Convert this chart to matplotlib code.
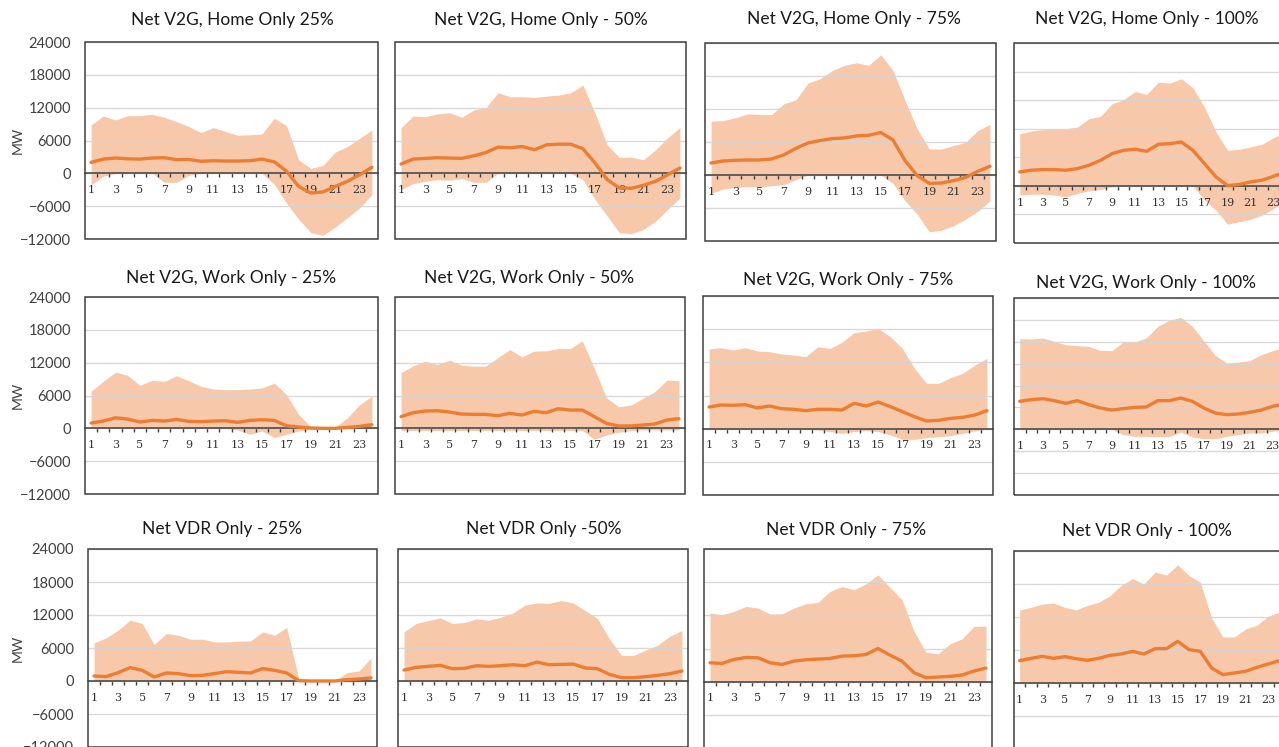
import matplotlib
matplotlib.use("Agg")
import matplotlib.pyplot as plt
from matplotlib.patches import Rectangle

# hours of the day
hours = list(range(1, 25))

titles = [
    "Net V2G, Home Only 25%", "Net V2G, Home Only - 50%", "Net V2G, Home Only - 75%", "Net V2G, Home Only - 100%",
    "Net V2G, Work Only - 25%", "Net V2G, Work Only - 50%", "Net V2G, Work Only - 75%", "Net V2G, Work Only - 100%",
    "Net VDR Only - 25%", "Net VDR Only -50%", "Net VDR Only - 75%", "Net VDR Only - 100%",
]

# --- Home only ---
home25_hi = [8850, 10480, 9760, 10540, 10540, 10790, 10240, 9450, 8540, 7450, 8360, 7640,
             6970, 7030, 7210, 10060, 8730, 2480, 900, 1450, 3880, 4900, 6420, 7940]
home25_lo = [-2060, -550, 0, 0, 0, 0, -1640, -1640, -360, 0, 0, 0,
             0, 0, 0, -2000, -5400, -8400, -10850, -11330, -9800, -8100, -6300, -3900]
home25_mid = [2000, 2600, 2800, 2650, 2600, 2800, 2850, 2500, 2550, 2200, 2300, 2250,
              2250, 2300, 2600, 2100, 400, -2400, -3600, -3400, -2400, -1450, -250, 1100]

home50_hi = [8360, 10480, 10360, 10850, 11090, 10240, 11570, 12000, 14730, 14000, 14000, 13880,
             14120, 14300, 14730, 16120, 10970, 5210, 2910, 2970, 2480, 4300, 6540, 8360]
home50_lo = [-2970, -1880, -1450, -1150, -1270, -970, -1640, -1640, 0, 0, 0, 0,
             0, 0, 0, -1150, -4790, -7800, -10850, -11030, -10240, -8730, -6600, -4480]
home50_mid = [1700, 2600, 2730, 2850, 2790, 2730, 3200, 3800, 4790, 4670, 4900, 4300,
              5210, 5330, 5330, 4480, 1880, -1150, -2670, -2730, -2180, -1450, -240, 970]

home75_hi = [9780, 9900, 10390, 11120, 11000, 11000, 12940, 13670, 16710, 17500, 19020, 19930,
             20420, 19930, 21870, 19020, 13550, 8390, 4740, 4740, 5350, 5950, 8080, 9180]
home75_lo = [-3340, -2550, -2250, -2130, -2130, -1940, -1760, -850, 0, 0, 0, 0,
             0, 0, 0, -1520, -4680, -7110, -10330, -10030, -9240, -8020, -6620, -4680]
home75_mid = [2190, 2550, 2670, 2730, 2730, 2920, 3650, 4860, 5830, 6260, 6620, 6740,
              7110, 7230, 7720, 6380, 2610, -120, -1520, -1460, -1030, -430, 670, 1580]

home100_hi = [10960, 11520, 11800, 11870, 12010, 12360, 14100, 14590, 17240, 18080, 19820, 19200,
              21780, 21570, 22480, 20590, 16540, 11310, 7470, 7680, 8170, 8730, 10120, 11310]
home100_lo = [-1950, -1750, -1750, -1950, -2300, -1600, -1050, -770, -200, 0, 0, 0,
              0, 0, 0, 0, -3000, -5100, -8030, -7540, -7050, -6140, -4750, -3350]
home100_mid = [2930, 3280, 3420, 3420, 3280, 3630, 4330, 5370, 6770, 7470, 7680, 7260,
               8730, 8860, 9210, 7470, 4680, 1880, 70, 280, 840, 1190, 2020, 2930]

# --- Work only ---
work25_hi = [6770, 8580, 10280, 9670, 7860, 8770, 8580, 9610, 8700, 7680, 7190, 7070,
             7070, 7190, 7370, 8280, 6170, 2540, 240, 0, 240, 1930, 4350, 5860]
work25_lo = [0, 0, 0, 0, 0, 0, 0, 0, 0, 0, 0, 0,
             -300, -1090, -480, -1690, -1090, -480, -180, 0, 0, 0, 0, 0]
work25_mid = [970, 1330, 1930, 1690, 1150, 1450, 1330, 1630, 1270, 1210, 1330, 1390,
              1090, 1450, 1570, 1450, 480, 240, 60, 0, 0, 180, 360, 660]

work50_hi = [10150, 11420, 12270, 11670, 12460, 11540, 11360, 11360, 12880, 14400, 13060, 14100,
             14160, 14580, 14580, 15980, 10940, 5590, 3950, 4250, 5470, 6680, 8810, 8690]
work50_lo = [-400, -400, -400, -400, -400, -400, -400, -400, -400, -400, -400, -400,
             -400, -400, -400, -400, -2000, -1220, -730, -430, -300, -300, -300, -300]
work50_mid = [2130, 2860, 3160, 3220, 2980, 2610, 2550, 2550, 2310, 2730, 2430, 3100,
              2860, 3580, 3340, 3340, 2130, 910, 430, 430, 610, 790, 1520, 1760]

work75_hi = [14410, 14650, 14230, 14650, 14050, 13930, 13510, 13330, 13020, 14830, 14530, 15620,
             17370, 17670, 18150, 16640, 14530, 10910, 8200, 8200, 9230, 10010, 11520, 12720]
work75_lo = [-100, -100, -100, -100, -100, -100, -100, -100, -100, -240, -540, -840,
             -540, -360, -540, -1150, -1930, -1930, -1630, -1450, -1270, -840, -420, 0]
work75_mid = [3920, 4280, 4220, 4340, 3740, 4100, 3620, 3500, 3260, 3500, 3500, 3380,
              4580, 4100, 4820, 3980, 3080, 2170, 1390, 1510, 1870, 2050, 2470, 3260]

work100_hi = [16560, 16500, 16690, 16080, 15470, 15290, 15160, 14430, 14370, 15960, 15960, 16690,
              18820, 19910, 20460, 18820, 16200, 13520, 12120, 12300, 12550, 13640, 14370, 14980]
work100_lo = [0, 0, 0, 0, 0, 0, 0, 0, 0, -970, -1280, -1280,
              -1340, -1340, -490, -1400, -1710, -1710, -1280, -970, -670, -670, -370, 0]
work100_mid = [5120, 5420, 5600, 5240, 4750, 5240, 4510, 3900, 3530, 3780, 4020, 4080,
               5240, 5240, 5720, 5120, 3900, 2980, 2680, 2800, 3110, 3530, 4200, 4630]

# --- VDR only ---
vdr25_hi = [6930, 7840, 9240, 11060, 10450, 6620, 8630, 8320, 7600, 7600, 7110, 7110,
            7230, 7290, 8930, 8320, 9720, 420, 0, 0, 0, 1520, 1820, 4190]
vdr25_lo = [0] * 24
vdr25_mid = [910, 790, 1520, 2430, 1940, 730, 1460, 1340, 970, 1030, 1340, 1700,
             1580, 1460, 2250, 1940, 1460, 60, 0, 0, 0, 240, 360, 550]

vdr50_hi = [8940, 10450, 10990, 11480, 10450, 10630, 11290, 11050, 11600, 12380, 13770, 14190,
            14130, 14620, 14190, 12800, 11360, 7670, 4650, 4650, 5620, 6520, 8150, 9180]
vdr50_lo = [0] * 24
vdr50_mid = [1990, 2480, 2660, 2840, 2230, 2300, 2780, 2660, 2780, 2960, 2780, 3440,
             2960, 3020, 3080, 2360, 2230, 1210, 600, 600, 790, 1030, 1330, 1810]

vdr75_hi = [12420, 12120, 12720, 13620, 13320, 12240, 12240, 13320, 14100, 14340, 16320, 17220,
            16620, 17700, 19320, 17040, 14820, 9120, 5340, 5040, 6840, 7740, 10020, 10020]
vdr75_lo = [0] * 24
vdr75_mid = [3420, 3300, 4020, 4380, 4320, 3420, 3120, 3720, 3960, 4080, 4200, 4620,
             4680, 4920, 6000, 4800, 3720, 1620, 720, 840, 960, 1200, 1920, 2460]

vdr100_hi = [13270, 13760, 14360, 14540, 13760, 13270, 14120, 14670, 15880, 17760, 18970, 18000,
             20180, 19630, 21510, 19510, 18300, 11820, 8360, 8360, 9820, 10480, 12120, 12910]
vdr100_lo = [0] * 24
vdr100_mid = [4060, 4480, 4850, 4480, 4790, 4420, 4120, 4480, 5030, 5270, 5760, 5270,
              6240, 6240, 7580, 6060, 5760, 2730, 1520, 1820, 2120, 2850, 3450, 4060]

series = [
    (home25_hi, home25_lo, home25_mid), (home50_hi, home50_lo, home50_mid),
    (home75_hi, home75_lo, home75_mid), (home100_hi, home100_lo, home100_mid),
    (work25_hi, work25_lo, work25_mid), (work50_hi, work50_lo, work50_mid),
    (work75_hi, work75_lo, work75_mid), (work100_hi, work100_lo, work100_mid),
    (vdr25_hi, vdr25_lo, vdr25_mid), (vdr50_hi, vdr50_lo, vdr50_mid),
    (vdr75_hi, vdr75_lo, vdr75_mid), (vdr100_hi, vdr100_lo, vdr100_mid),
]

# axis ranges (min, max, step) per panel
yranges = [(-12000, 24000, 6000)] * 3 + [(-12000, 30000, 6000)] + \
          [(-12000, 24000, 6000)] * 3 + [(-12000, 24000, 4000)] + \
          [(-12000, 24000, 6000)] * 4

# panel boxes in pixels: left, top, right, bottom
boxes = [
    (85, 42, 378, 239), (395, 42, 686, 239), (705, 43, 996, 241), (1014, 43, 1291, 243),
    (85, 297, 378, 494), (395, 297, 685, 494), (703, 296, 993, 495), (1014, 298, 1290, 495),
    (88, 549, 377, 747), (398, 549, 688, 747), (704, 549, 992, 748), (1014, 551, 1285, 749),
]
title_pos = [
    (232, 20), (541, 20), (854, 19), (1147, 19),
    (231, 278), (529, 278), (848, 280), (1146, 283),
    (222, 529), (544, 529), (846, 530), (1147, 531),
]

W, H = 1279, 747
fig = plt.figure(figsize=(W / 100, H / 100), dpi=100)
fig.patch.set_facecolor("white")

band_color = "#F7C9AA"
line_color = "#ED7D31"
frame_color = "#3F3F3F"

for i, (hi, lo, mid) in enumerate(series):
    l, t, r, b = boxes[i]
    ax = fig.add_axes([l / W, 1 - b / H, (r - l) / W, (b - t) / H])
    ymin, ymax, step = yranges[i]

    ax.fill_between(hours, lo, hi, color=band_color, linewidth=0, zorder=1)
    ax.plot(hours, mid, color=line_color, lw=2.4, solid_joinstyle="round",
            solid_capstyle="round", zorder=3)

    ax.set_xlim(0.5, 24.5)
    ax.set_ylim(ymin, ymax)
    ax.set_yticks(range(ymin, ymax + 1, step))
    # grid drawn over the light band, as in the source
    ax.grid(axis="y", color="#D5D5D5", lw=1, alpha=0.9)

    # x axis sits on the zero line
    for s in ["top", "left", "right"]:
        ax.spines[s].set_visible(False)
    ax.spines["bottom"].set_position(("data", 0))
    ax.spines["bottom"].set_color(frame_color)
    ax.spines["bottom"].set_linewidth(1.1)
    ax.set_xticks(range(1, 25, 2))
    ax.set_xticks([h + 0.5 for h in hours[:-1]], minor=True)
    ax.tick_params(axis="x", which="major", length=0, pad=8.5, labelsize=8,
                   labelfontfamily="DejaVu Serif", colors="#333333")
    ax.tick_params(axis="x", which="minor", length=3, width=1, direction="out",
                   color=frame_color)

    ax.add_patch(Rectangle((0, 0), 1, 1, transform=ax.transAxes, fill=False,
                           edgecolor=frame_color, lw=1.1, clip_on=False, zorder=5))

    if i % 4 == 0:
        ax.tick_params(axis="y", length=0, pad=10, labelsize=10.5,
                       labelfontfamily="Lato", colors="#404040")
        fig.text(18 / W, 1 - (t + b) / 2 / H, "MW", rotation=90, ha="center", va="center",
                 fontsize=10, family="Lato", color="#404040")
    else:
        ax.tick_params(axis="y", length=0, labelleft=False)

    tx, ty = title_pos[i]
    fig.text(tx / W, 1 - ty / H, titles[i], ha="center", va="center",
             fontsize=12.5, family="Lato", color="#1a1a1a")

fig.savefig("out.png", dpi=100)
